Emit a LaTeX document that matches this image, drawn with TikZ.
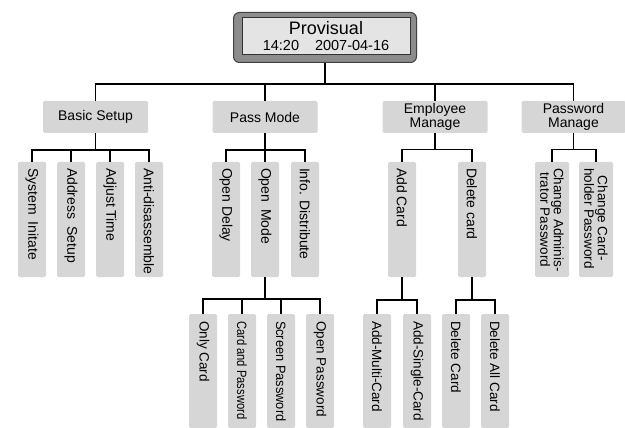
\documentclass[tikz,border=0pt]{standalone}
\usepackage{fontspec}
\setmainfont{Liberation Sans}
\definecolor{boxgray}{HTML}{D6D6D6}
\definecolor{outergray}{HTML}{8C8C8C}
\definecolor{innergray}{HTML}{E4E4E4}
\begin{document}
\begin{tikzpicture}[x=1pt,y=-1pt,
  box/.style={fill=boxgray, draw=none, inner sep=0pt, rounded corners=1.5pt},
  lone/.style={box, minimum width=105pt, minimum height=32pt, font=\fontsize{14}{14}\selectfont, align=center},
  vbox/.style={box, minimum width=28pt, minimum height=115pt},
  wbox/.style={box, minimum width=34pt, minimum height=115pt},
  bbox/.style={box, minimum width=28pt, minimum height=114pt},
  vtext/.style={rotate=-90, anchor=west, inner sep=0pt, font=\fontsize{14}{13}\selectfont, align=center},
  btext/.style={vtext, font=\fontsize{13.5}{13}\selectfont},
  conn/.style={draw=black, line width=1.6pt}]
\useasboundingbox (0,0) rectangle (625,428);

% top box
\node[fill=outergray, draw=black!75, line width=1pt, rounded corners=6pt, minimum width=183pt, minimum height=50pt, inner sep=0pt] (topo) at (325,37.5) {};
\node[fill=innergray, draw=black!80, line width=1pt, minimum width=168pt, minimum height=37pt, inner sep=0pt] (top) at (326,36.5) {};
\node[anchor=base, inner sep=0pt, font=\fontsize{18}{18}\selectfont] (t1) at (326,35) {Provisual};
\node[anchor=base, inner sep=0pt, font=\fontsize{14.5}{14}\selectfont] (t2) at (326,50.5) {14:20\hspace{1.1em}2007-04-16};

% level 1
\node[lone] (bs) at (95.5,117) {Basic Setup};
\node[lone] (pm) at (265,117) {Pass Mode};
\node[lone] (em) at (435,117) {Employee\\Manage};
\node[lone, minimum width=104pt] (pw) at (573.5,117) {Password\\Manage};

% level 2
\foreach \n/\x in {si/32, as/71, at/110, ad/149, od/226, om/265, id/305, ac/402, dc/472}
  \node[vbox] (\n) at (\x,219.5) {};
\node[wbox] (ca) at (552,219.5) {};
\node[wbox] (ch) at (596,219.5) {};

% level 3
\foreach \n/\x in {oc/203, cp/242, sp/281, op/320, am/377, sc/417, dl/456, da/495}
  \node[bbox] (\n) at (\x,371) {};

% texts level 2
\node[vtext] (tsi) at ([yshift=-6pt]si.north) {System\hspace{0.5em}Initate};
\node[vtext] (tas) at ([yshift=-6pt]as.north) {Address\hspace{0.5em}Setup};
\node[vtext] (tat) at ([yshift=-6pt]at.north) {Adjust Time};
\node[vtext] (tad) at ([yshift=-6pt]ad.north) {Anti-disassemble};
\node[vtext] (tod) at ([yshift=-6pt]od.north) {Open Delay};
\node[vtext] (tom) at ([yshift=-6pt]om.north) {Open\hspace{0.5em}Mode};
\node[vtext] (tid) at ([yshift=-6pt]id.north) {Info. Distribute};
\node[vtext] (tac) at ([yshift=-6pt]ac.north) {Add Card};
\node[vtext] (tdc) at ([yshift=-6pt]dc.north) {Delete card};
\node[vtext, font=\fontsize{13.5}{12.5}\selectfont] (tca) at ([yshift=-6pt]ca.north) {Change Adminis-\\trator Password};
\node[vtext, font=\fontsize{13.5}{12.5}\selectfont] (tch) at ([yshift=-6pt]ch.north) {Change Card-\\holder Password};

% texts level 3
\node[btext] (toc) at ([yshift=-7pt]oc.north) {Only Card};
\node[btext] (tcp) at ([yshift=-7pt]cp.north) {\scalebox{0.83}[1]{Card and Password}};
\node[btext] (tsp) at ([yshift=-7pt]sp.north) {\scalebox{0.95}[1]{Screen Password}};
\node[btext] (top2) at ([yshift=-7pt]op.north) {Open Password};
\node[btext] (tam) at ([yshift=-7pt]am.north) {Add-Multi-Card};
\node[btext] (tsc) at ([yshift=-7pt]sc.north) {Add-Single-Card};
\node[btext] (tdl) at ([yshift=-7pt]dl.north) {Delete Card};
\node[btext] (tda) at ([yshift=-7pt]da.north) {Delete All Card};

% connectors level 0 -> 1
\foreach \c in {bs,pm,em,pw}
  \draw[conn] (topo.south) -- (topo.south |- 0,84) -| (\c.north);
% level 1 -> 2
\foreach \c in {si,as,at,ad}
  \draw[conn] (bs.south) -- (bs.south |- 0,150) -| (\c.north);
\foreach \c in {od,om,id}
  \draw[conn] (pm.south) -- (pm.south |- 0,150) -| (\c.north);
\foreach \c in {ac,dc}
  \draw[conn] (em.south) -- (em.south |- 0,149.5) -| (\c.north);
\foreach \c in {ca,ch}
  \draw[conn] (pw.south) -- (pw.south |- 0,149.5) -| (\c.north);
% level 2 -> 3
\foreach \c in {oc,cp,sp,op}
  \draw[conn] (om.south) -- (om.south |- 0,299) -| (\c.north);
\foreach \c in {am,sc}
  \draw[conn] (ac.south) -- (ac.south |- 0,300) -| (\c.north);
\foreach \c in {dl,da}
  \draw[conn] (dc.south) -- (dc.south |- 0,300) -| (\c.north);
\end{tikzpicture}
\end{document}
